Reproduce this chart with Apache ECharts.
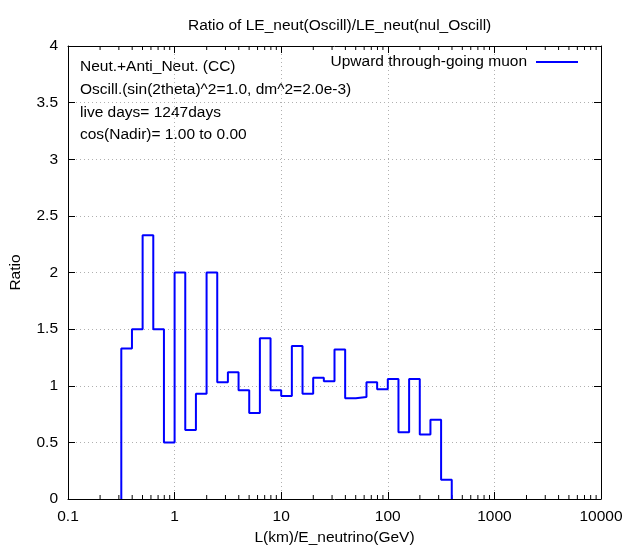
<!DOCTYPE html>
<html><head><meta charset="utf-8">
<script src="https://cdn.jsdelivr.net/npm/echarts@6/dist/echarts.min.js"></script>
<style>html,body{margin:0;padding:0;background:#fff}#c{width:623px;height:545px}</style>
</head><body><div id="c"></div>
<script>
// Bin edges (L/E in km/GeV), 0.1-decade bins
const binEdges = [0.3162,0.3981,0.5012,0.6310,0.7943,1.0,1.2589,1.5849,1.9953,2.5119,3.1623,3.9811,5.0119,6.3096,7.9433,10.0,12.589,15.849,19.953,25.119,31.623,39.811,50.119,63.096,79.433,100.0,125.89,158.49,199.53,251.19,316.23,398.11];
// Ratio values per bin
const ratioValues = [1.33,1.5,2.33,1.5,0.5,2.0,0.61,0.93,2.0,1.03,1.12,0.96,0.76,1.42,0.96,0.91,1.35,0.93,1.07,1.04,1.32,0.89,0.90,1.03,0.97,1.06,0.59,1.06,0.57,0.70,0.17];
// minor tick positions on the log axis
const minorTickValues = [0.2,0.3,0.4,0.5,0.6,0.7,0.8,0.9,2,3,4,5,6,7,8,9,20,30,40,50,60,70,80,90,200,300,400,500,600,700,800,900,2000,3000,4000,5000,6000,7000,8000,9000];
const seriesName = 'Upward through-going muon';
const annotations = ['Neut.+Anti_Neut. (CC)','Oscill.(sin(2theta)^2=1.0, dm^2=2.0e-3)','live days= 1247days','cos(Nadir)= 1.00 to 0.00'];

const stepData = [[binEdges[0], 0]];
for (let i = 0; i < ratioValues.length; i++) {
  stepData.push([binEdges[i], ratioValues[i]]);
  stepData.push([binEdges[i+1], ratioValues[i]]);
}
stepData.push([binEdges[binEdges.length-1], 0]);

const FONT = '"Liberation Sans", Arial, sans-serif';
const FS = 15.5;
const chart = echarts.init(document.getElementById('c'), null, {renderer:'canvas'});
const axisLine = {show:true, onZero:false, lineStyle:{color:'#000', width:1}};
chart.setOption({
  backgroundColor:'#fff',
  animation:false,
  title:{text:'Ratio of LE_neut(Oscill)/LE_neut(nul_Oscill)', left:183, top:13,
    textStyle:{fontFamily:FONT, fontSize:FS, fontWeight:'normal', color:'#000'}},
  grid:{left:68, right:22, top:46, bottom:46, containLabel:false, outerBoundsMode:'none'},
  legend:{data:[seriesName], right:40, top:49, align:'right', icon:'rect', itemWidth:42, itemHeight:2, itemGap:8,
    itemStyle:{color:'#0000ff'},
    textStyle:{fontFamily:FONT, fontSize:FS, color:'#000', padding:[0,4,0,0]}},
  xAxis:[{
    type:'log', logBase:10, min:0.1, max:10000, position:'bottom',
    name:'L(km)/E_neutrino(GeV)', nameLocation:'middle', nameGap:30,
    nameTextStyle:{fontFamily:FONT, fontSize:FS, color:'#000'},
    axisLine:axisLine,
    axisTick:{show:true, inside:true, length:7, lineStyle:{color:'#000'}},
    axisLabel:{fontFamily:FONT, fontSize:FS, color:'#000', margin:10,
      formatter:function(v){ return String(+v.toPrecision(6)); }},
    splitLine:{show:true, lineStyle:{color:'#b0b0b0', type:[1,3], width:1}}
  },{
    type:'log', logBase:10, min:0.1, max:10000, position:'top',
    axisLine:axisLine,
    axisTick:{show:true, inside:true, length:7, lineStyle:{color:'#000'}},
    axisLabel:{show:false}, splitLine:{show:false}
  }],
  yAxis:[{
    type:'value', min:0, max:4, interval:0.5, position:'left',
    name:'Ratio', nameLocation:'middle', nameGap:44, nameRotate:90,
    nameTextStyle:{fontFamily:FONT, fontSize:FS, color:'#000'},
    axisLine:axisLine,
    axisTick:{show:true, inside:true, length:7, lineStyle:{color:'#000'}},
    axisLabel:{fontFamily:FONT, fontSize:FS, color:'#000', margin:10},
    splitLine:{show:true, lineStyle:{color:'#b0b0b0', type:[1,3], width:1}}
  },{
    type:'value', min:0, max:4, interval:0.5, position:'right',
    axisLine:axisLine,
    axisTick:{show:true, inside:true, length:7, lineStyle:{color:'#000'}},
    axisLabel:{show:false}, splitLine:{show:false}
  }],
  graphic: annotations.map((t, i) => ({
    type:'text', left:80, top:59 + i*22.7,
    style:{text:t, font:FS + 'px ' + FONT, fill:'#000'}
  })),
  series:[{
    name:seriesName, type:'line', xAxisIndex:0, yAxisIndex:0,
    data:stepData, showSymbol:false, symbol:'none',
    lineStyle:{color:'#0000ff', width:2}, itemStyle:{color:'#0000ff'},
    clip:false, z:5
  },{
    type:'custom', xAxisIndex:0, yAxisIndex:0, silent:true,
    data:minorTickValues.map(v => [v, 0]),
    renderItem:function(params, api){
      const b = api.coord([api.value(0), 0]);
      const t = api.coord([api.value(0), 4]);
      return {type:'group', children:[
        {type:'line', shape:{x1:b[0], y1:b[1], x2:b[0], y2:b[1]-4}, style:{stroke:'#000', lineWidth:1}},
        {type:'line', shape:{x1:t[0], y1:t[1], x2:t[0], y2:t[1]+4}, style:{stroke:'#000', lineWidth:1}}
      ]};
    }
  }]
});
</script></body></html>
